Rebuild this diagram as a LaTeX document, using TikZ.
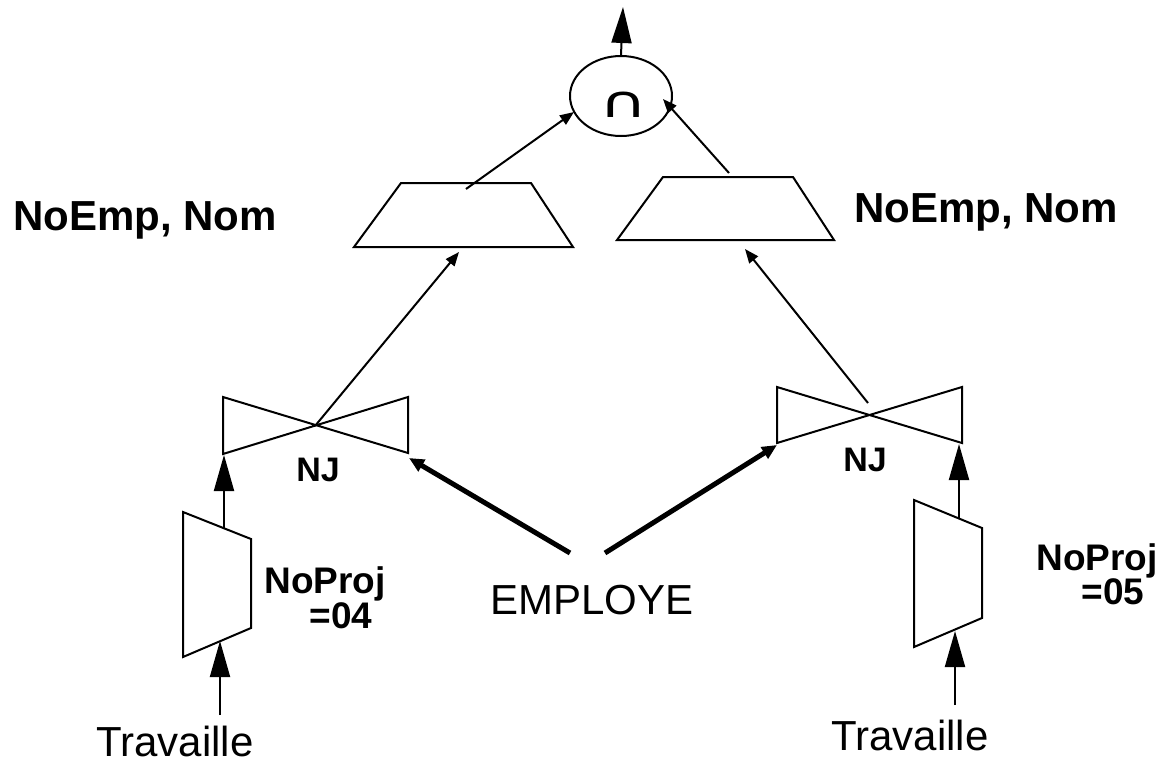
\documentclass[tikz,border=0pt]{standalone}
\usepackage{graphicx}
\usepackage{fontspec}
\setmainfont{Liberation Sans}
\newfontfamily\symfont{DejaVu Sans}
\usetikzlibrary{positioning}
\usetikzlibrary{arrows.meta}
\usetikzlibrary{shapes.geometric}

\begin{document}
\begin{tikzpicture}[x=1pt,y=-1pt,line width=2pt,
                    small/.style={-{Triangle[length=14pt,width=11pt]}},
                    big/.style={-{Triangle[length=36pt,width=20pt]}},
                    heavy/.style={line width=5pt,-{Triangle[length=15pt,width=13pt]}},
                    attr/.style={anchor=base,font=\bfseries\fontsize{42}{42}\selectfont},
                    cond/.style={anchor=base,font=\bfseries\fontsize{37}{37}\selectfont},
                    rel/.style={anchor=base,inner sep=1pt,font=\fontsize{42}{42}\selectfont}]
\useasboundingbox (0,0) rectangle (1159,763);

% intersection
\node[draw,ellipse,minimum width=102pt,minimum height=80pt,inner sep=0pt] (inter) at (621,96) {};
\node[anchor=base,font=\symfont\fontsize{44}{44}\selectfont] (cap) at (624,117) {\scalebox{1.5}[1]{∩}};
\coordinate (out) at (623,7);

% projections
\draw (401,183) -- (531,183) -- (573,247) -- (354,247) -- cycle;
\draw (663,177) -- (793,177) -- (834,240) -- (617,240) -- cycle;
\coordinate (p1 top) at (466,189);
\coordinate (p1 in) at (459,252);
\coordinate (p2 top) at (729,173);
\coordinate (p2 in) at (745,249);
\node[attr] (a1) at (145,230) {NoEmp, Nom};
\node[attr] (a2) at (986,222) {NoEmp, Nom};

% joins
\draw (223,397) -- (408,453) -- (408,397) -- (223,454) -- cycle;
\draw (777,387) -- (962,443) -- (962,387) -- (777,443) -- cycle;
\coordinate (j1 mid) at (315,426);
\coordinate (j1 l) at (224,455);
\coordinate (j1 r) at (409,458);
\coordinate (j2 mid) at (868,403);
\coordinate (j2 l) at (777,445);
\coordinate (j2 r) at (959,444);
\node[anchor=base,font=\bfseries\fontsize{34}{34}\selectfont] (nj1) at (318,481) {NJ};
\node[anchor=base,font=\bfseries\fontsize{34}{34}\selectfont] (nj2) at (865,471) {NJ};

% selections
\draw (183,512) -- (251,539) -- (251,628) -- (183,657) -- cycle;
\draw (914,500) -- (982,528) -- (982,618) -- (914,647) -- cycle;
\coordinate (s1 top) at (224,528);
\coordinate (s1 in) at (220,641);
\coordinate (s2 top) at (959,518);
\coordinate (s2 in) at (955,631);
\node[cond] (c1) at (325,593) {NoProj};
\node[cond] (c1v) at (341,628) {=04};
\node[cond] (c2) at (1097,570) {NoProj};
\node[cond] (c2v) at (1113,604) {=05};

% relations
\node[rel] (t1) at (175,756) {Travaille};
\node[rel] (t2) at (910,750) {Travaille};
\node[rel] (emp) at (592,614) {EMPLOYE};
\coordinate (t1 top) at (220,715);
\coordinate (t2 top) at (955,705);
\coordinate (emp l) at (570,553);
\coordinate (emp r) at (605,553);

\path[big]
  (t1 top) edge (s1 in)
  (t2 top) edge (s2 in)
  (s1 top) edge (j1 l)
  (s2 top) edge (j2 r)
  (inter.north) edge (out);
\path[small]
  (j1 mid) edge (p1 in)
  (j2 mid) edge (p2 in)
  (p1 top) edge (574,112)
  (p2 top) edge (663,99);
\path[heavy]
  (emp l) edge (j1 r)
  (emp r) edge (j2 l);
\end{tikzpicture}
\end{document}
